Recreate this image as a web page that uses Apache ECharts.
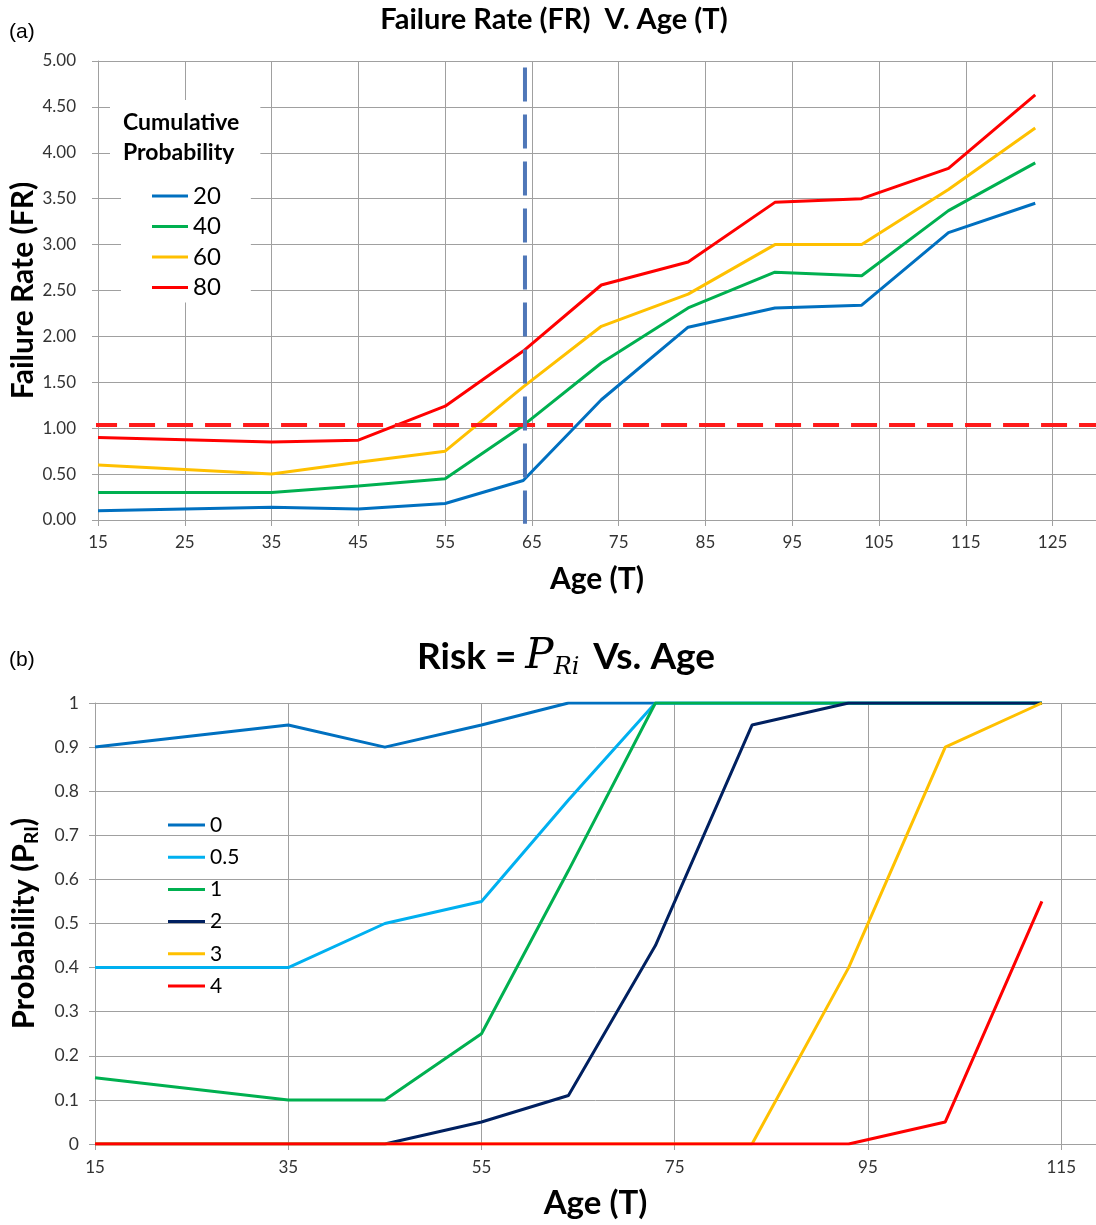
<!DOCTYPE html>
<html>
<head>
<meta charset="utf-8">
<title>Failure Rate and Risk vs Age</title>
<script src="https://cdn.jsdelivr.net/npm/echarts@6/dist/echarts.min.js"></script>
<style>
	html, body { margin: 0; padding: 0; background: #fff; }
	#chart { width: 1096px; height: 1225px; }
</style>
</head>
<body>
<div id="chart"></div>
<script>
// (a) failure rate vs age, one line per cumulative probability
const frAges = [15, 35, 45, 55, 64, 73, 83, 93, 103, 113, 123];
const frNames = ["20", "40", "60", "80"];
const fr20 = [0.10, 0.14, 0.12, 0.18, 0.43, 1.31, 2.10, 2.31, 2.34, 3.13, 3.45];
const fr40 = [0.30, 0.30, 0.37, 0.45, 1.03, 1.71, 2.31, 2.70, 2.66, 3.37, 3.89];
const fr60 = [0.60, 0.50, 0.63, 0.75, 1.45, 2.11, 2.46, 3.00, 3.00, 3.60, 4.27];
const fr80 = [0.90, 0.85, 0.87, 1.24, 1.84, 2.56, 2.81, 3.46, 3.50, 3.83, 4.63];
const frColors = ["#0070c0", "#00b050", "#ffc000", "#ff0000"];
// dashed guide lines
const frLimit = 1.035;
const frLimitAges = [14.2, 130];
const markAge = 64.2;
const markFR = [4.93, -0.04];

// (b) risk probability vs age
const riskAges = [15, 35, 45, 55, 64, 73, 83, 93, 103, 113];
const riskNames = ["0", "0.5", "1", "2", "3", "4"];
const risk0 = [0.90, 0.95, 0.90, 0.95, 1, 1, 1, 1, 1, 1];
const risk05 = [0.40, 0.40, 0.50, 0.55, 0.78, 1, 1, 1, 1, 1];
const risk1 = [0.15, 0.10, 0.10, 0.25, 0.62, 1, 1, 1, 1, 1];
const risk2 = [0, 0, 0, 0.05, 0.11, 0.45, 0.95, 1, 1, 1];
const risk3 = [0, 0, 0, 0, 0, 0, 0, 0.40, 0.90, 1];
const risk4 = [0, 0, 0, 0, 0, 0, 0, 0, 0.05, 0.55];
const riskColors = ["#0070c0", "#00b0f0", "#00b050", "#002060", "#ffc000", "#ff0000"];

const font = "Lato, 'Open Sans', sans-serif";
const gridColor = "#a0a0a0";

function pairs(xs, ys) {
	return xs.map((x, i) => [x, ys[i]]);
}

function dataLine(name, xs, ys, color, idx) {
	return {
		name: name,
		type: "line",
		xAxisIndex: idx,
		yAxisIndex: idx,
		data: pairs(xs, ys),
		showSymbol: false,
		symbol: "none",
		lineStyle: { color: color, width: 3 },
		itemStyle: { color: color },
	};
}

function valueAxis(idx, extra) {
	return Object.assign({
		type: "value",
		gridIndex: idx,
		axisLine: { show: true, onZero: false, lineStyle: { color: gridColor } },
		axisTick: { show: true, length: 6, lineStyle: { color: gridColor } },
		splitLine: { show: true, lineStyle: { color: gridColor, width: 1 } },
		nameLocation: "middle",
		nameMoveOverlap: false,
	}, extra);
}

const frSeries = [fr20, fr40, fr60, fr80].map((ys, i) =>
	dataLine(frNames[i], frAges, ys, frColors[i], 0));
const riskSeries = [risk0, risk05, risk1, risk2, risk3, risk4].map((ys, i) =>
	dataLine(riskNames[i], riskAges, ys, riskColors[i], 1));

let myChart = echarts.init(document.getElementById("chart"), null, { renderer: "canvas" });
let option = {
	animation: false,
	backgroundColor: "#fff",
	textStyle: { fontFamily: font },
	graphic: [
		{ type: "text", x: 9, y: 32, style: { text: "(a)", font: "21px 'Liberation Sans'", fill: "#000", verticalAlign: "middle" } },
		{ type: "text", x: 9, y: 660, style: { text: "(b)", font: "21px 'Liberation Sans'", fill: "#000", verticalAlign: "middle" } },
		{
			type: "text", x: 554, y: 20,
			style: { text: "Failure Rate (FR)  V. Age (T)", font: "bold 29px " + font, fill: "#000", align: "center", verticalAlign: "middle" },
		},
		{
			type: "text", x: 566, y: 657,
			style: {
				text: "Risk = {p|P}{s|Ri} Vs. Age",
				font: "bold 37px " + font,
				fill: "#000",
				align: "center",
				verticalAlign: "middle",
				rich: {
					p: { fontFamily: "'DejaVu Serif', serif", fontStyle: "italic", fontSize: 42, fill: "#000" },
					s: { fontFamily: "'DejaVu Serif', serif", fontStyle: "italic", fontSize: 24, fill: "#000", padding: [22, 5, 0, 0] },
				},
			},
		},
	],
	title: [
		{
			text: "Cumulative\nProbability",
			left: 110,
			top: 100,
			padding: [8, 21, 10, 13],
			backgroundColor: "#fff",
			textStyle: { fontFamily: font, fontSize: 23, fontWeight: "bold", lineHeight: 30, color: "#000" },
		},
	],
	legend: [
		{
			data: frNames,
			orient: "vertical",
			left: 121,
			top: 178,
			padding: [6, 30, 3, 31],
			itemGap: 6.5,
			itemWidth: 36,
			itemHeight: 3,
			icon: "rect",
			backgroundColor: "#fff",
			textStyle: { fontFamily: font, fontSize: 24, lineHeight: 24, color: "#000" },
		},
		{
			data: riskNames,
			orient: "vertical",
			left: 168,
			top: 814,
			padding: 0,
			itemGap: 10.2,
			itemWidth: 37,
			itemHeight: 3,
			icon: "rect",
			textStyle: { fontFamily: font, fontSize: 21, lineHeight: 22, color: "#000" },
		},
	],
	grid: [
		{ left: 98, top: 61, width: 998, height: 459, outerBoundsMode: "none" },
		{ left: 95, top: 703, width: 1001, height: 441, outerBoundsMode: "none" },
	],
	xAxis: [
		valueAxis(0, {
			min: 15,
			max: 130,
			interval: 10,
			axisLabel: { fontSize: 17, color: "#333", margin: 14, showMaxLabel: false },
			name: "Age (T)",
			nameGap: 44,
			nameTextStyle: { fontFamily: font, fontSize: 30, fontWeight: "bold", color: "#000" },
		}),
		valueAxis(1, {
			min: 15,
			max: 118.6,
			interval: 20,
			axisLabel: { fontSize: 17, color: "#333", margin: 15, showMaxLabel: false },
			name: "Age (T)",
			nameGap: 43,
			nameTextStyle: { fontFamily: font, fontSize: 33, fontWeight: "bold", color: "#000" },
		}),
	],
	yAxis: [
		valueAxis(0, {
			min: 0,
			max: 5,
			interval: 0.5,
			axisLabel: { fontSize: 17, color: "#333", margin: 22, formatter: (v) => v.toFixed(2) },
			name: "Failure Rate (FR)",
			nameGap: 60,
			nameTextStyle: { fontFamily: font, fontSize: 30, fontWeight: "bold", color: "#000" },
		}),
		valueAxis(1, {
			min: 0,
			max: 1,
			interval: 0.1,
			axisLabel: { fontSize: 17.5, color: "#333", margin: 16 },
			name: "Probability (P{sub|RI})",
			nameGap: 54,
			nameTextStyle: {
				fontFamily: font, fontSize: 31, fontWeight: "bold", color: "#000",
				rich: { sub: { fontFamily: font, fontSize: 19, fontWeight: "bold", color: "#000", padding: [16, 0, 0, 0] } },
			},
		}),
	],
	series: frSeries.concat([
		{
			name: "limit",
			type: "line",
			xAxisIndex: 0,
			yAxisIndex: 0,
			data: frLimitAges.map((x) => [x, frLimit]),
			symbol: "none",
			clip: false,
			z: 5,
			lineStyle: { color: "#ff1a1a", width: 4, type: [26, 12] },
		},
		{
			name: "mark",
			type: "line",
			xAxisIndex: 0,
			yAxisIndex: 0,
			data: markFR.map((y) => [markAge, y]),
			symbol: "none",
			clip: false,
			z: 5,
			lineStyle: { color: "#4f77b8", width: 4, type: [34, 13] },
		},
	], riskSeries),
};
myChart.setOption(option);
</script>
</body>
</html>
